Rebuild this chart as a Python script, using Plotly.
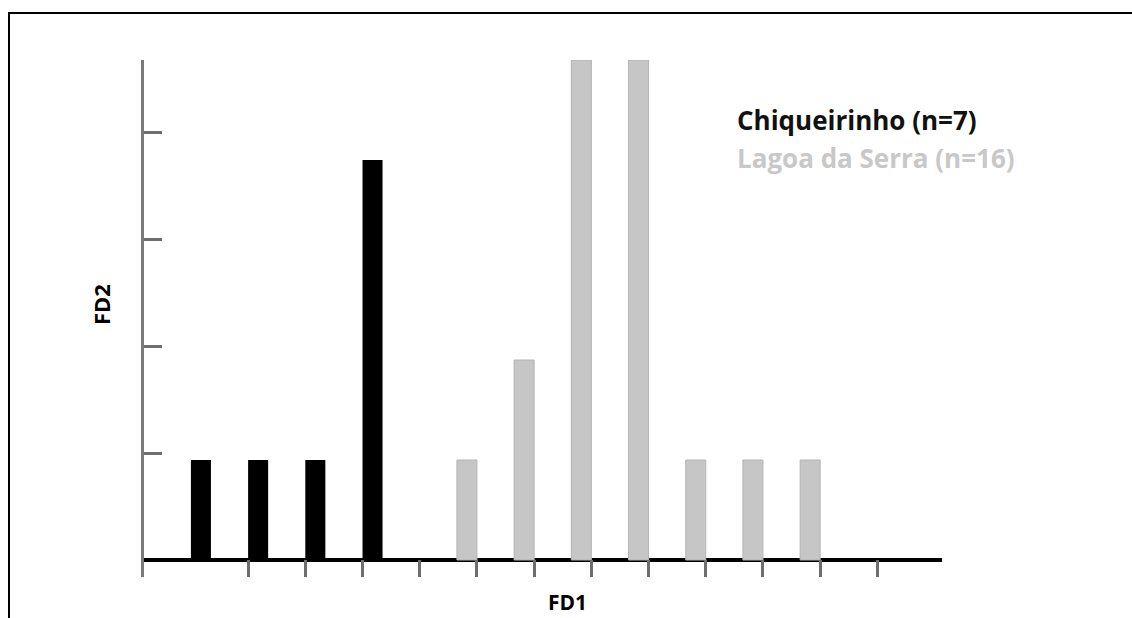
import plotly.graph_objects as go

# Data: bin index (FD1 classes) and counts per group
bins = list(range(12))
chiqueirinho = [1, 1, 1, 4, 0, 0, 0, 0, 0, 0, 0, 0]
lagoa_serra = [0, 0, 0, 0, 1, 2, 5, 5, 1, 1, 1, 0]
series_names = ["Chiqueirinho (n=7)", "Lagoa da Serra (n=16)"]
x_tick_vals = list(range(1, 13))
y_tick_vals = [1.07, 2.14, 3.21, 4.28]

BAR_W = 0.35
BLACK = "#000000"
GRAY = "#c6c6c6"

def nz(vals):
    return [v if v else None for v in vals]

fig = go.Figure()
fig.add_trace(go.Bar(
    x=bins, y=nz(chiqueirinho), width=BAR_W, offset=0,
    marker=dict(color=BLACK, line=dict(color=BLACK, width=0)),
    name=series_names[0], showlegend=False,
))
fig.add_trace(go.Bar(
    x=bins, y=nz(lagoa_serra), width=BAR_W, offset=1 - BAR_W,
    marker=dict(color=GRAY, line=dict(color="#b4b4b4", width=1)),
    name=series_names[1], showlegend=False,
))

L, R, T, B = 144, 190, 60, 41
fig.update_layout(
    width=1132, height=618,
    margin=dict(l=L, r=R, t=T, b=B, pad=0),
    paper_bgcolor="white", plot_bgcolor="white",
    barmode="overlay",
    font=dict(family="Open Sans", color="black"),
    xaxis=dict(
        range=[-0.82, 13.13], showgrid=False, zeroline=False,
        showline=False, tickvals=x_tick_vals, showticklabels=False,
        ticks="inside", ticklen=17, tickwidth=3, tickcolor="#6e6e6e",
    ),
    yaxis=dict(
        range=[-0.17, 5.0], showgrid=False,
        zeroline=True, zerolinecolor="black", zerolinewidth=4,
        showline=True, linecolor="#7a7a7a", linewidth=3,
        tickvals=y_tick_vals, showticklabels=False,
        ticks="inside", ticklen=18, tickwidth=3, tickcolor="#6e6e6e",
    ),
    showlegend=False,
)

W = 1132 - L - R
H = 618 - T - B
def px(x):
    return (x - L) / W
def py(y):
    return (618 - B - y) / H

fig.add_annotation(text="<b>FD1</b>", x=px(567), y=py(617), xref="paper", yref="paper",
                   xanchor="center", yanchor="bottom", borderpad=0,
                   showarrow=False, font=dict(size=21, color="black", family="Open Sans"))
fig.add_annotation(text="<b>FD2</b>", x=px(101), y=py(305), xref="paper", yref="paper",
                   xanchor="center", yanchor="middle",
                   showarrow=False, textangle=-90, font=dict(size=22, color="black", family="Open Sans"))
fig.add_annotation(text="<b>" + series_names[0] + "</b>", x=px(735), y=py(120), xref="paper", yref="paper",
                   xanchor="left", yanchor="middle", showarrow=False,
                   font=dict(size=26, color="#111111", family="Open Sans"))
fig.add_annotation(text="<b>" + series_names[1] + "</b>", x=px(735), y=py(158), xref="paper", yref="paper",
                   xanchor="left", yanchor="middle", showarrow=False,
                   font=dict(size=26, color="#c8c8c8", family="Open Sans"))

# outer frame (top and left edges)
fig.add_shape(type="line", xref="paper", yref="paper", x0=px(8), x1=px(1132), y0=py(13), y1=py(13),
              line=dict(color="black", width=2))
fig.add_shape(type="line", xref="paper", yref="paper", x0=px(9), x1=px(9), y0=py(12), y1=py(618),
              line=dict(color="black", width=2))

fig.write_html("out.html")
